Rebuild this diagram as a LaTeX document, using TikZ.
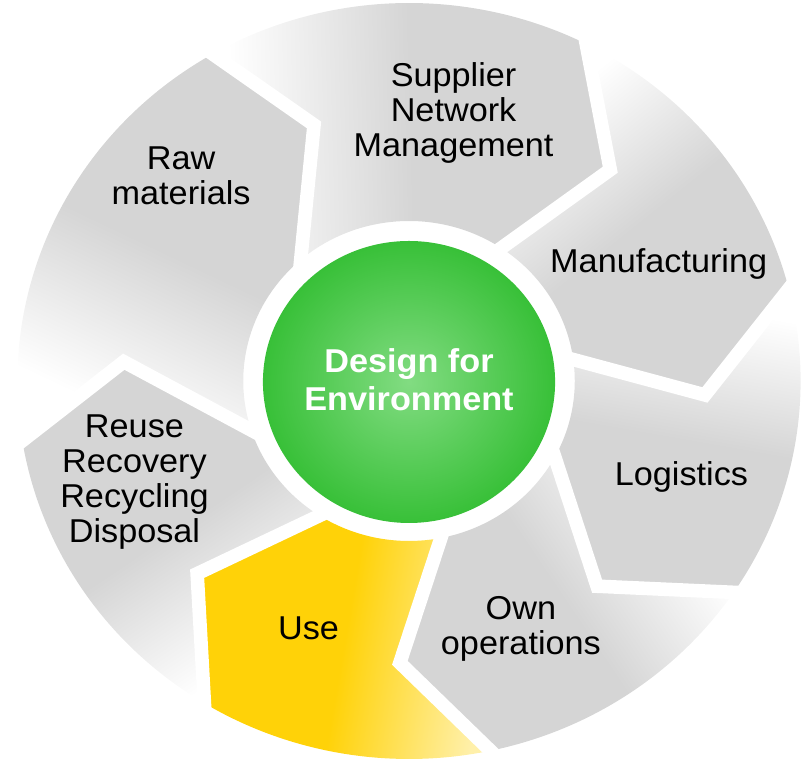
\documentclass[tikz,border=0pt]{standalone}
\usepackage{fontspec}
\setmainfont{Liberation Sans}[FakeStretch=1.036]
\usetikzlibrary{calc}

\definecolor{segGray}{RGB}{213,213,213}
\definecolor{useGold}{RGB}{255,210,8}
\definecolor{usePale}{RGB}{255,240,170}
\definecolor{hubLight}{RGB}{130,220,130}
\definecolor{hubDark}{RGB}{56,192,56}

% fade from the tip (bottom) to the notch (top) of a segment
\pgfdeclareverticalshading{segfade}{100bp}{color(0bp)=(segGray); color(50bp)=(segGray); color(73bp)=(white); color(100bp)=(white)}
\pgfdeclareverticalshading{usefade}{100bp}{color(0bp)=(useGold); color(50bp)=(useGold); color(75bp)=(usePale); color(100bp)=(usePale)}

\newcommand{\Ro}{378}% outer radius of the ring
\newcommand{\Ri}{160}% inner radius of the ring

\begin{document}
\begin{tikzpicture}[x=0.0259cm,y=0.025cm,
	seg/.style={shading=segfade},
	useseg/.style={shading=usefade},
	gap/.style={white,line width=0.34cm,line join=miter},
	segtext/.style={font=\fontsize{23.5}{25}\selectfont,align=center},
	hubtext/.style={font=\bfseries\fontsize{23.5}{27}\selectfont,align=center,text=white}]
	\useasboundingbox (-394.8,-380) rectangle (383.2,381);
	% ring segments: outer angle / tip angle / tip radius / inner angle, at both ends
	\foreach \oA/\tA/\rA/\iA/\oB/\tB/\rB/\iB/\sty in {
		189.1/176.0/276/197.9/120.1/109.7/272/130.8/seg,
		120.1/109.7/272/130.8/63.1/47.4/287/56.2/seg,
		63.1/47.4/287/56.2/14.1/-2.8/286/7.7/seg,
		14.1/-2.8/286/7.7/-34.0/-48.5/274/-28.4/seg,
		-34.0/-48.5/274/-28.4/-78.0/-91.8/282/-78.9/seg,
		-78.0/-91.8/282/-78.9/-121.5/-136.7/281/-122.7/useseg,
		238.5/223.3/281/237.3/189.1/176.0/276/197.9/seg}{
		\pgfmathsetmacro{\mang}{(\oA+\oB)/2}
		\shade[\sty,shading angle=\mang] (\oA:\Ro) arc[start angle=\oA,end angle=\oB,radius=\Ro]
			-- (\tB:\rB) -- (\iB:\Ri) arc[start angle=\iB,end angle=\iA,radius=\Ri]
			-- (\tA:\rA) -- cycle;
	}
	% white gaps between the segments
	\foreach \oA/\tA/\rA/\iA in {189.1/176.0/276/197.9, 120.1/109.7/272/130.8,
		63.1/47.4/287/56.2, 14.1/-2.8/286/7.7, -34.0/-48.5/274/-28.4,
		-78.0/-91.8/282/-78.9, -121.5/-136.7/281/-122.7}
		\draw[gap] ($(\tA:\rA)!1.3!(\oA:\Ro)$) -- (\tA:\rA) -- ($(\tA:\rA)!1.25!(\iA:\Ri)$);
	\shade[inner color=hubLight,outer color=hubDark] (0,-1) circle[radius=141];
	\node[hubtext] (dfe) at (0,1) {Design for\\Environment};
	\node[segtext] (raw) at (-220,205) {Raw\\materials};
	\node[segtext] (supplier) at (43,268) {Supplier\\Network\\Management};
	\node[segtext] (manufacturing) at (241,117) {Manufacturing};
	\node[segtext] (logistics) at (263,-96) {Logistics};
	\node[segtext] (own) at (108,-248) {Own\\operations};
	\node[segtext] (use) at (-97,-247) {Use};
	\node[segtext] (reuse) at (-265,-101) {Reuse\\Recovery\\Recycling\\Disposal};
\end{tikzpicture}
\end{document}
